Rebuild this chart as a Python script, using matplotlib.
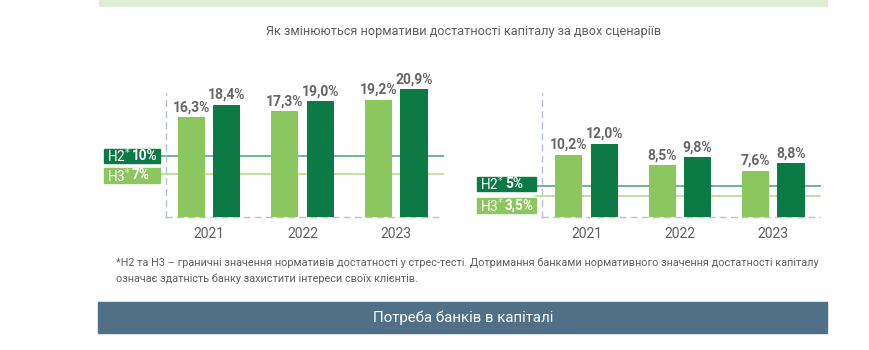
import numpy as np
import matplotlib.pyplot as plt
from matplotlib.patches import Rectangle
from matplotlib.transforms import offset_copy

plt.rcParams['font.family'] = ['Liberation Sans Narrow', 'Roboto', 'DejaVu Sans']

# capital adequacy ratios, % (two scenarios)
years = ['2021', '2022', '2023']
h2_base = [16.3, 17.3, 19.2]
h2_alt = [18.4, 19.0, 20.9]
h3_base = [10.2, 8.5, 7.6]
h3_alt = [12.0, 9.8, 8.8]

# stress-test thresholds
h2_limit = 10
h3_limit = 7
h2_limit_r = 5
h3_limit_r = 3.5

title = 'Як змінюються нормативи достатності капіталу за двох сценаріїв'
note1 = ('*Н2 та Н3 – граничні значення нормативів достатності у стрес-тесті. '
         'Дотримання банками нормативного значення достатності капіталу')
note2 = 'означає здатність банку захистити інтереси своїх клієнтів.'
band_text = 'Потреба банків в капіталі'

light = '#8cc65e'
dark = '#0b7a44'
line_dark = '#63ae8c'
line_light = '#bcdd98'
grey = '#5e5e5e'
W, H = 870, 350

fig = plt.figure(figsize=(8.7, 3.5), dpi=100)


def px(x0, y0, w, h):
    # pixel box (top-left origin) -> figure fraction rect
    return [x0 / W, 1 - (y0 + h) / H, w / W, h / H]


def fmt(v):
    return ('%.1f%%' % v).replace('.', ',')


def draw_panel(ax, a, b, limits, boxes):
    x = np.arange(len(years))
    ax.bar(x - 0.19, a, width=0.29, color=light, clip_on=False, zorder=3)
    ax.bar(x + 0.19, b, width=0.29, color=dark, clip_on=False, zorder=3)
    for xs, vals in ((x - 0.19, a), (x + 0.19, b)):
        for xi, v in zip(xs, vals):
            ax.annotate(fmt(v), (xi, v), xytext=(0, 2), textcoords='offset points',
                        ha='center', va='bottom', fontsize=10, color='#666666',
                        fontweight='bold', annotation_clip=False)
    ax.set_ylim(0, 20.3)
    ax.set_xticks(x)
    ax.set_xticklabels(years, fontsize=10, color=grey)
    ax.tick_params(axis='x', length=0, pad=7)
    ax.set_yticks([])
    for s in ('top', 'right'):
        ax.spines[s].set_visible(False)
    for s in ('left', 'bottom'):
        ax.spines[s].set_color('#b4c3cf')
        ax.spines[s].set_linestyle((0, (4, 4)))
        ax.spines[s].set_linewidth(1)

    # threshold lines and their labels
    tr = ax.get_yaxis_transform()
    for (name, val, lc, bc), (bx0, bx1, yc) in zip(limits, boxes):
        ax.axhline(val, xmin=bx1, xmax=1, color=lc, lw=1.3, clip_on=False, zorder=2)
        ax.add_patch(Rectangle((bx0, yc - 1.2), bx1 - bx0, 2.4, transform=tr,
                               color=bc, clip_on=False, zorder=4))
        nt = offset_copy(tr, fig=fig, x=3, y=0, units='dots')
        ax.text(bx0, yc, name + '$^{*}$', transform=nt, ha='left', va='center',
                color='white', fontsize=9.8, zorder=5)
        vt = offset_copy(tr, fig=fig, x=28, y=0, units='dots')
        ax.text(bx0, yc, ('%g%%' % val).replace('.', ','), transform=vt,
                ha='left', va='center', color='white', fontsize=9.8,
                fontweight='bold', zorder=5)


ax1 = fig.add_axes(px(166, 93, 277, 124))
ax1.set_xlim(-0.46, 2.5)
draw_panel(ax1, h2_base, h2_alt,
           [('Н2', h2_limit, line_dark, dark), ('Н3', h3_limit, line_light, light)],
           [(-0.224, -0.022, 10.0), (-0.224, -0.022, 6.8)])

ax2 = fig.add_axes(px(542, 93, 278, 124))
ax2.set_xlim(-0.476, 2.5)
draw_panel(ax2, h3_base, h3_alt,
           [('Н2', h2_limit_r, line_dark, dark), ('Н3', h3_limit_r, line_light, light)],
           [(-0.234, -0.022, 5.4), (-0.234, -0.022, 1.9)])

# header strip, title, footnote and section band
fig.patches.append(Rectangle((99 / W, 1 - 6 / H), 728 / W, 6 / H,
                             transform=fig.transFigure, color='#ddeed4'))
fig.text(464 / W, 1 - 32 / H, title, ha='center', va='center', fontsize=9.1, color=grey)
fig.text(116 / W, 1 - 263 / H, note1, ha='left', va='center', fontsize=7.8, color=grey)
fig.text(116 / W, 1 - 279 / H, note2, ha='left', va='center', fontsize=7.8, color=grey)
fig.patches.append(Rectangle((98 / W, 1 - 333 / H), 729 / W, 31 / H,
                             transform=fig.transFigure, color='#4f7086'))
fig.text(463 / W, 1 - 318 / H, band_text, ha='center', va='center', fontsize=10.8,
         color='white')

fig.savefig('out.png', dpi=100, facecolor='white')
